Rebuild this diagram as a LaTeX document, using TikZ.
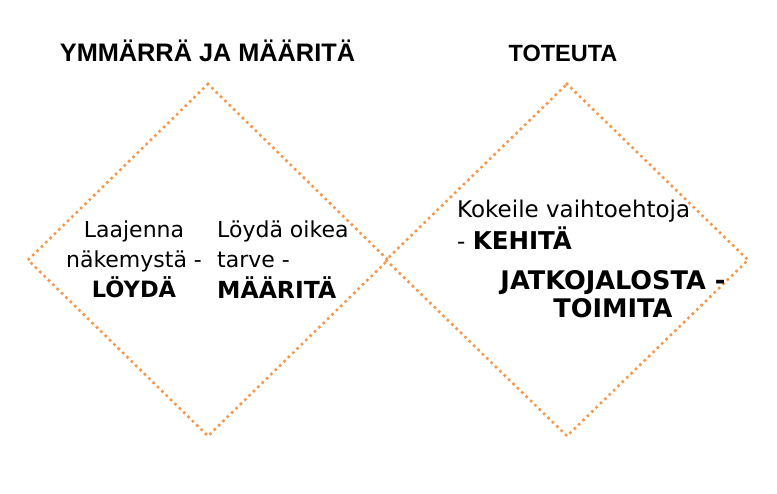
\documentclass[tikz,border=0pt]{standalone}
\usepackage{fontspec}
\setmainfont{DejaVu Sans}
\newfontfamily\titlefont{Liberation Sans}
\definecolor{dotorange}{HTML}{F79646}
\newcommand\boldat[2]{{\fontsize{#1}{30}\selectfont\bfseries #2}}
\begin{document}
\begin{tikzpicture}[x=1pt,y=-1pt,
  dotline/.style={draw=dotorange, line width=3.6pt, line cap=round, dash pattern=on 0pt off 6.1pt},
  title/.style={font=\titlefont\bfseries, anchor=base, inner sep=0pt},
  txt/.style={inner sep=0pt, anchor=base}]
\useasboundingbox (0,0) rectangle (777,494);
% diamonds
\coordinate (LT) at (208,84);
\coordinate (LL) at (28,260);
\coordinate (LB) at (208,436);
\coordinate (LR) at (388,260);
\coordinate (RT) at (567,84);
\coordinate (RL) at (386,260);
\coordinate (RB) at (567,436);
\coordinate (RR) at (748,260);
\draw[dotline] (LT) -- (LR) -- (LB) -- (LL) -- cycle;
\draw[dotline] (RT) -- (RR) -- (RB) -- (RL) -- cycle;
% titles
\node[title, font=\titlefont\bfseries\fontsize{25.3}{28}\selectfont] (t1) at (207.5,62) {YMMÄRRÄ JA MÄÄRITÄ};
\node[title, font=\titlefont\bfseries\fontsize{23.5}{28}\selectfont] (t2) at (563,62) {TOTEUTA};
% left diamond texts
\node[txt, font=\fontsize{22}{30}\selectfont] (a) at (134,238)
  {\begin{tabular}[t]{@{}c@{}}Laajenna\\näkemystä -\\\boldat{22.5}{LÖYDÄ}\end{tabular}};
\node[txt, anchor=base west, font=\fontsize{22}{30}\selectfont] (b) at (217,238)
  {\begin{tabular}[t]{@{}l@{}}Löydä oikea\\tarve -\\\boldat{23.5}{MÄÄRITÄ}\end{tabular}};
% right diamond texts
\node[txt, anchor=base west, font=\fontsize{23}{30}\selectfont] (c) at (457,218)
  {\begin{tabular}[t]{@{}l@{}}Kokeile vaihtoehtoja\\- \boldat{24.5}{KEHITÄ}\end{tabular}};
\node[txt, font=\fontsize{25.6}{28}\selectfont\bfseries] (d) at (613,290)
  {\begin{tabular}[t]{@{}c@{}}JATKOJALOSTA -\\TOIMITA\end{tabular}};
\end{tikzpicture}
\end{document}
